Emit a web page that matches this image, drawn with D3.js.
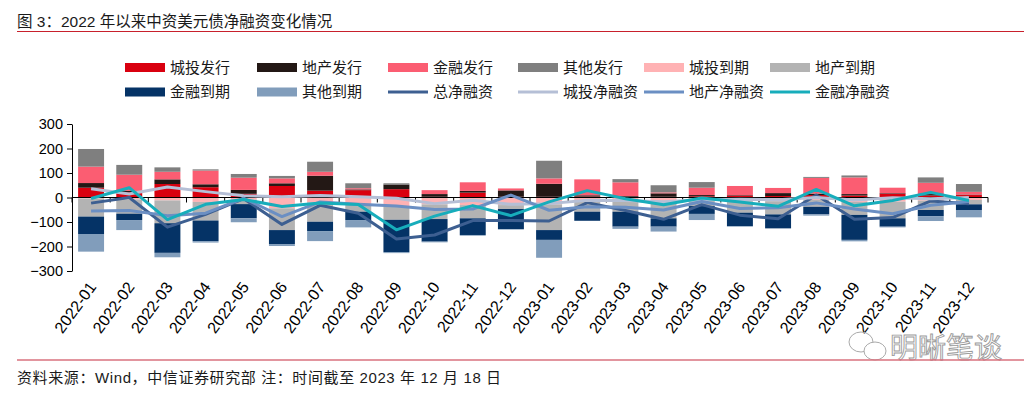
<!DOCTYPE html>
<html>
<head>
<meta charset="utf-8">
<script src="https://cdn.jsdelivr.net/npm/d3@7"></script>
<style>
  body { margin: 0; background: #fff; }
  svg { display: block; font-family: "Liberation Sans", Arial, "Noto Sans CJK SC", sans-serif; }
</style>
</head>
<body>
<div id="main"></div>
<script>
// months on the x axis
const months = ['2022-01', '2022-02', '2022-03', '2022-04', '2022-05', '2022-06', '2022-07', '2022-08', '2022-09', '2022-10', '2022-11', '2022-12',
  '2023-01', '2023-02', '2023-03', '2023-04', '2023-05', '2023-06', '2023-07', '2023-08', '2023-09', '2023-10', '2023-11', '2023-12'];
// issuance (positive) and maturities (negative), 亿美元
const ctIssue = [40, 22, 55, 42, 15, 47, 28, 30, 34, 3, 20, 3, 3, 4, 3, 3, 5, 8, 6, 10, 8, 16, 8, 10];
const reIssue = [19, 5, 19, 12, 16, 11, 61, 3, 19, 11, 7, 26, 53, 5, 3, 14, 5, 2, 12, 6, 6, 2, 6, 2];
const finIssue = [67, 66, 31, 56, 50, 20, 16, 5, 0, 16, 35, 8, 22, 65, 56, 4, 30, 37, 21, 64, 68, 22, 46, 11];
const othIssue = [72, 40, 18, 5, 15, 10, 41, 20, 5, 0, 0, 0, 72, 0, 13, 29, 23, 0, 0, 4, 8, 0, 22, 32];
const ctMature = [-4, -8, -12, -18, -8, -44, -20, -27, -37, -28, -31, -31, -28, -15, -15, -20, -14, -15, -15, -10, -18, -17, -13, -10];
const reMature = [-74, -58, -93, -76, -19, -89, -79, -31, -54, -60, -54, -16, -105, -43, -43, -65, -21, -47, -54, -28, -53, -68, -38, -18];
const finMature = [-71, -26, -121, -84, -58, -57, -38, -34, -132, -92, -68, -82, -40, -37, -61, -34, -32, -55, -57, -31, -102, -34, -25, -23];
const othMature = [-72, -41, -18, -6, -16, -8, -41, -30, -4, -3, -3, -2, -73, 0, -9, -20, -25, -2, 0, -5, -6, -3, -20, -30];
// net financing lines
const totalNet = [-23, 0, -121, -69, -5, -110, -32, -64, -169, -153, -94, -94, -96, -21, -53, -89, -29, -72, -87, 10, -89, -82, -14, -26];
const ctNet = [36, 14, 43, 24, 7, 3, 8, 3, -3, -25, -11, -28, -25, -11, -12, -17, -9, -7, -9, 0, -10, -1, -5, 0];
const reNet = [-55, -53, -74, -64, -3, -78, -18, -28, -35, -49, -47, 10, -52, -38, -40, -51, -16, -45, -42, -22, -47, -66, -32, -16];
const finNet = [-4, 40, -90, -28, -8, -37, -22, -29, -132, -76, -33, -74, -18, 28, -5, -30, -2, -18, -36, 33, -34, -12, 21, -12];
const yTicks = [-300, -200, -100, 0, 100, 200, 300];

// series definitions (name, values, colour)
const barSeries = [
  { key: '城投发行', values: ctIssue, color: '#d9000f' },
  { key: '地产发行', values: reIssue, color: '#231815' },
  { key: '金融发行', values: finIssue, color: '#fb5d72' },
  { key: '其他发行', values: othIssue, color: '#7f7f7f' },
  { key: '城投到期', values: ctMature, color: '#ffb2b4' },
  { key: '地产到期', values: reMature, color: '#b3b3b3' },
  { key: '金融到期', values: finMature, color: '#053366' },
  { key: '其他到期', values: othMature, color: '#819dbb' },
];
const lineSeries = [
  { key: '总净融资', values: totalNet, color: '#3d5f91' },
  { key: '城投净融资', values: ctNet, color: '#b5bfd6' },
  { key: '地产净融资', values: reNet, color: '#6b8fc3' },
  { key: '金融净融资', values: finNet, color: '#17adbb' },
];

const width = 1024;
const height = 393;
const margin = { left: 72, right: 36, top: 124, bottom: 122 };

const svg = d3.select('#main')
  .append('svg')
  .attr('width', width)
  .attr('height', height);

// title + red rule
svg.append('text')
  .attr('x', 17)
  .attr('y', 27)
  .attr('font-size', 15.5)
  .attr('fill', '#1a1a1a')
  .text('图 3：2022 年以来中资美元债净融资变化情况');
svg.append('line')
  .attr('x1', 17).attr('x2', width)
  .attr('y1', 31.5).attr('y2', 31.5)
  .attr('stroke', '#c8202c')
  .attr('stroke-width', 1.2);

// scales
const x = d3.scaleBand()
  .domain(months)
  .range([margin.left, width - margin.right])
  .paddingInner(0.32)
  .paddingOuter(0.16);
const y = d3.scaleLinear()
  .domain([-300, 300])
  .range([271, 124]);

// table for the stack
const table = months.map((m, i) => {
  const row = { month: m };
  barSeries.forEach(s => { row[s.key] = s.values[i]; });
  return row;
});
const stacked = d3.stack()
  .keys(barSeries.map(s => s.key))
  .offset(d3.stackOffsetDiverging)(table);

svg.append('g')
  .selectAll('g')
  .data(stacked)
  .enter()
  .append('g')
  .attr('fill', (d, i) => barSeries[i].color)
  .selectAll('rect')
  .data(d => d)
  .enter()
  .append('rect')
  .attr('x', d => x(d.data.month))
  .attr('width', x.bandwidth())
  .attr('y', d => y(Math.max(d[0], d[1])))
  .attr('height', d => Math.abs(y(d[0]) - y(d[1])));

// y axis
const yAxis = svg.append('g')
  .attr('transform', `translate(${margin.left},0)`)
  .call(d3.axisLeft(y).tickValues(yTicks).tickSize(5).tickPadding(4).tickSizeOuter(0));
yAxis.select('.domain').attr('stroke', '#000');
yAxis.selectAll('.tick line').attr('stroke', '#000');
yAxis.selectAll('text')
  .attr('font-size', 14.5)
  .attr('fill', '#000')
  .attr('font-family', '"Liberation Sans", Arial, sans-serif');

// zero line with ticks between months
const step = x.step();
const x0 = margin.left;
const x1 = width - margin.right;
svg.append('line')
  .attr('x1', x0).attr('x2', x1)
  .attr('y1', y(0)).attr('y2', y(0))
  .attr('stroke', '#000').attr('stroke-width', 1.2);
svg.append('g')
  .selectAll('line')
  .data(d3.range(months.length + 1))
  .enter()
  .append('line')
  .attr('x1', i => x0 + i * step)
  .attr('x2', i => x0 + i * step)
  .attr('y1', y(0))
  .attr('y2', y(0) + 5)
  .attr('stroke', '#000');

// lines
const lineGen = d3.line()
  .x((d, i) => x(months[i]) + x.bandwidth() / 2)
  .y(d => y(d));
svg.append('g')
  .selectAll('path')
  .data(lineSeries)
  .enter()
  .append('path')
  .attr('d', d => lineGen(d.values))
  .attr('fill', 'none')
  .attr('stroke', d => d.color)
  .attr('stroke-width', 3)
  .attr('stroke-linejoin', 'round');

// rotated month labels
svg.append('g')
  .selectAll('text')
  .data(months)
  .enter()
  .append('text')
  .attr('transform', m => `translate(${x(m) + x.bandwidth() / 2 + 6},${287}) rotate(-54)`)
  .attr('text-anchor', 'end')
  .attr('font-size', 16)
  .attr('fill', '#000')
  .text(m => m);

// legend: two rows of six
const legendItems = barSeries.map(s => ({ key: s.key, color: s.color, type: 'bar' }))
  .concat(lineSeries.map(s => ({ key: s.key, color: s.color, type: 'line' })));
const legendX = [125, 257, 388, 518, 644, 770];
const legendY = [67.5, 92];
const legend = svg.append('g')
  .selectAll('g')
  .data(legendItems)
  .enter()
  .append('g')
  .attr('transform', (d, i) => `translate(${legendX[i % 6]},${legendY[Math.floor(i / 6)]})`);
legend.filter(d => d.type === 'bar')
  .append('rect')
  .attr('x', 0).attr('y', -4.5)
  .attr('width', 40).attr('height', 9)
  .attr('fill', d => d.color);
legend.filter(d => d.type === 'line')
  .append('line')
  .attr('x1', 0).attr('x2', 40)
  .attr('stroke', d => d.color)
  .attr('stroke-width', 3);
legend.append('text')
  .attr('x', 45)
  .attr('dy', '0.36em')
  .attr('font-size', 15)
  .attr('fill', '#1a1a1a')
  .text(d => d.key);

// watermark
const wm = svg.append('g').attr('transform', 'translate(848,347)');
wm.append('ellipse').attr('cx', 13).attr('cy', -5).attr('rx', 12).attr('ry', 10)
  .attr('fill', 'none').attr('stroke', '#aaa').attr('stroke-width', 1);
wm.append('ellipse').attr('cx', 27).attr('cy', 4).attr('rx', 11).attr('ry', 9)
  .attr('fill', '#fff').attr('stroke', '#aaa').attr('stroke-width', 1);
wm.append('text')
  .attr('x', 42).attr('y', 11)
  .attr('font-size', 28)
  .attr('font-family', '"Noto Sans CJK SC", sans-serif')
  .attr('fill', '#fff')
  .attr('stroke', '#9a9a9a')
  .attr('stroke-width', 0.9)
  .text('明晰笔谈');

// footer rule and source
svg.append('line')
  .attr('x1', 17).attr('x2', width)
  .attr('y1', 360).attr('y2', 360)
  .attr('stroke', '#d9727e')
  .attr('stroke-width', 1.5);
svg.append('text')
  .attr('x', 17)
  .attr('y', 383)
  .attr('font-size', 15)
  .attr('letter-spacing', 0.6)
  .attr('fill', '#1a1a1a')
  .text('资料来源：Wind，中信证券研究部 注：时间截至 2023 年 12 月 18 日');
</script>
</body>
</html>
